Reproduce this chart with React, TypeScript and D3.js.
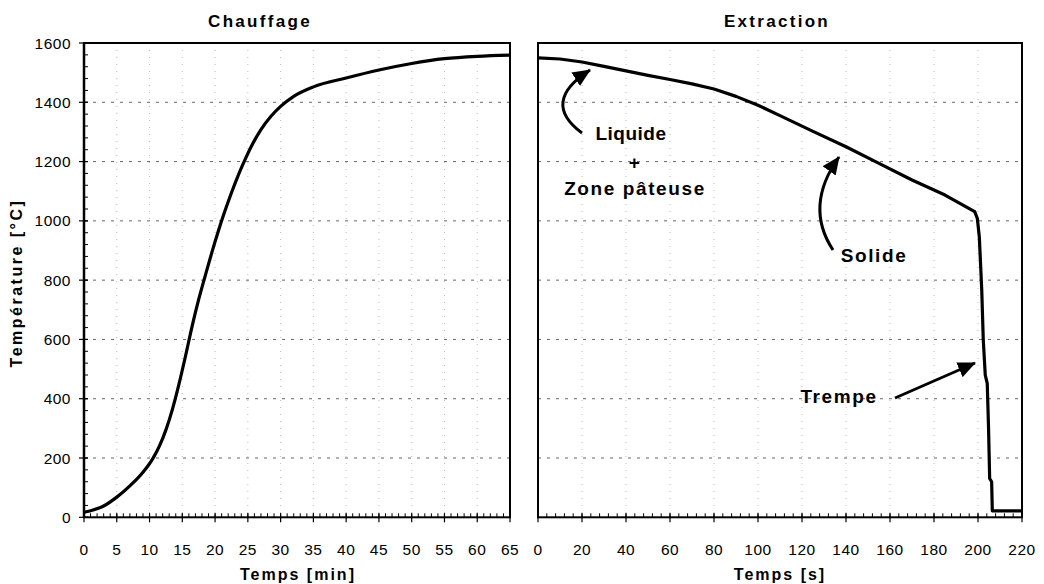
import React from "react";
import * as d3 from "d3";

// ---- Data ----
const heatTime = [0, 3, 5, 7, 9, 10.5, 11.5, 12.5, 13.5, 14.5, 15.5, 16.5, 17.5, 18.5, 19.5, 20.5, 21.5, 22.5, 23.5, 24.5, 25.5, 27, 28.5, 30, 32, 35, 40, 45, 50, 55, 60, 65];
const heatTemp = [17, 38, 68, 106, 152, 198, 240, 295, 365, 450, 545, 645, 735, 815, 893, 966, 1033, 1095, 1152, 1203, 1250, 1308, 1352, 1386, 1420, 1452, 1482, 1509, 1531, 1547, 1555, 1559];

const extTime = [0, 10, 20, 30, 40, 50, 60, 70, 80, 90, 100, 110, 125, 140, 155, 170, 185, 198.5, 199.7, 200.6, 201.7, 202.4, 203.3, 204.2, 204.8, 205.3, 206.2, 206.5, 220];
const extTemp = [1550, 1546, 1536, 1521, 1506, 1491, 1477, 1462, 1445, 1420, 1390, 1355, 1302, 1250, 1194, 1138, 1087, 1031, 1008, 946, 767, 598, 480, 452, 300, 131, 120, 22, 22];

const yTicks = [0, 200, 400, 600, 800, 1000, 1200, 1400, 1600];
const heatTicks = d3.range(0, 66, 5);
const extTicks = d3.range(0, 221, 20);

const titles = ["Chauffage", "Extraction"];
const xTitles = ["Temps [min]", "Temps [s]"];
const yTitle = "Température [°C]";

const FONT = "'Liberation Sans', Arial, Helvetica, sans-serif";

export default function App() {
  const W = 1044, H = 584;
  const y = d3.scaleLinear().domain([0, 1600]).range([517.3, 43]);
  const xH = d3.scaleLinear().domain([0, 65]).range([84, 510]);
  const xE = d3.scaleLinear().domain([0, 220]).range([538, 1022]);

  const heatLine = d3.line<number>().x((d, i) => xH(heatTime[i])).y((d) => y(d)).curve(d3.curveMonotoneX);
  const extLine = d3.line<number>().x((d, i) => xE(extTime[i])).y((d) => y(d));

  const yMinor = d3.range(0, 1601, 40);
  const hMinor = d3.range(0, 66, 1);
  const eMinor = d3.range(0, 221, 4);
  const y0 = y(0), y1 = y(1600);

  const panel = (x: d3.ScaleLinear<number, number>, major: number[], minor: number[], key: string) => (
    <g key={key}>
      {major.slice(1, -1).map((t) => (
        <line key={"vg" + t} x1={x(t)} x2={x(t)} y1={y1} y2={y0} stroke="#bbb" strokeWidth={1} strokeDasharray="1,6" />
      ))}
      {yTicks.slice(1, -1).map((t) => (
        <line key={"hg" + t} x1={x.range()[0]} x2={x.range()[1]} y1={y(t)} y2={y(t)} stroke="#666" strokeWidth={1} strokeDasharray="3,6" />
      ))}
      <rect x={x.range()[0]} y={y1} width={x.range()[1] - x.range()[0]} height={y0 - y1} fill="none" stroke="#000" strokeWidth={2} />
      {minor.map((t) => (
        <line key={"mx" + t} x1={x(t)} x2={x(t)} y1={y0} y2={y0 - 4} stroke="#000" strokeWidth={1} />
      ))}
      {major.map((t) => (
        <line key={"Mx" + t} x1={x(t)} x2={x(t)} y1={y0 - 4} y2={y0 + 5} stroke="#000" strokeWidth={1.2} />
      ))}
      {major.map((t) => (
        <text key={"lx" + t} x={x(t)} y={555} textAnchor="middle" fontSize={15.5} fontFamily={FONT} letterSpacing={0.5} fill="#000">{t}</text>
      ))}
    </g>
  );

  const arrowPathStyle = { fill: "none", stroke: "#000", strokeWidth: 3 };
  const annot = { fontFamily: FONT, fontWeight: 700, fontSize: 19, letterSpacing: 1.6, fill: "#000" } as const;

  return (
    <svg width={W} height={H} style={{ position: "absolute", left: 0, top: 0, background: "#fff" }}>
      <defs>
        <marker id="ah" markerUnits="userSpaceOnUse" markerWidth={20} markerHeight={16} refX={17} refY={8} orient="auto">
          <path d="M0,0 L18,8 L0,16 Z" fill="#000" />
        </marker>
      </defs>
      <rect x={0} y={0} width={W} height={H} fill="#fff" />
      {panel(xH, heatTicks, hMinor, "h")}
      {panel(xE, extTicks, eMinor, "e")}
      <line x1={84} x2={84} y1={y1} y2={y0} stroke="#000" strokeWidth={2.5} />
      {yMinor.map((t) => (
        <line key={"my" + t} x1={84} x2={88} y1={y(t)} y2={y(t)} stroke="#000" strokeWidth={1} />
      ))}
      {yTicks.map((t) => (
        <g key={"My" + t}>
          <line x1={79} x2={88} y1={y(t)} y2={y(t)} stroke="#000" strokeWidth={1.2} />
          <text x={71} y={y(t) + 5.5} textAnchor="end" fontSize={15.5} fontFamily={FONT} letterSpacing={0.5} fill="#000">{t}</text>
        </g>
      ))}
      <path d={heatLine(heatTemp) || ""} fill="none" stroke="#000" strokeWidth={3.2} strokeLinejoin="round" />
      <path d={extLine(extTemp) || ""} fill="none" stroke="#000" strokeWidth={3.2} strokeLinejoin="round" />
      <text x={260} y={27} textAnchor="middle" fontFamily={FONT} fontWeight={700} fontSize={17} letterSpacing={2.3}>{titles[0]}</text>
      <text x={777} y={27} textAnchor="middle" fontFamily={FONT} fontWeight={700} fontSize={17} letterSpacing={2.3}>{titles[1]}</text>
      <text x={298} y={580} textAnchor="middle" fontFamily={FONT} fontWeight={700} fontSize={16} letterSpacing={2}>{xTitles[0]}</text>
      <text x={780} y={580} textAnchor="middle" fontFamily={FONT} fontWeight={700} fontSize={16} letterSpacing={2}>{xTitles[1]}</text>
      <text transform="translate(22,283) rotate(-90)" textAnchor="middle" fontFamily={FONT} fontWeight={700} fontSize={16} letterSpacing={2.5}>{yTitle}</text>
      <text x={631} y={140} textAnchor="middle" {...annot} letterSpacing={0.5}>Liquide</text>
      <text x={635} y={169} textAnchor="middle" {...annot}>+</text>
      <text x={635} y={195} textAnchor="middle" {...annot}>Zone pâteuse</text>
      <text x={874} y={262} textAnchor="middle" {...annot}>Solide</text>
      <text x={839} y={403} textAnchor="middle" {...annot}>Trempe</text>
      <path d="M582,133 Q540,102 590,70" style={arrowPathStyle} markerEnd="url(#ah)" />
      <path d="M833,250 Q804,206 839,157" style={arrowPathStyle} markerEnd="url(#ah)" />
      <path d="M895,398 L975,363" style={arrowPathStyle} markerEnd="url(#ah)" />
    </svg>
  );
}
